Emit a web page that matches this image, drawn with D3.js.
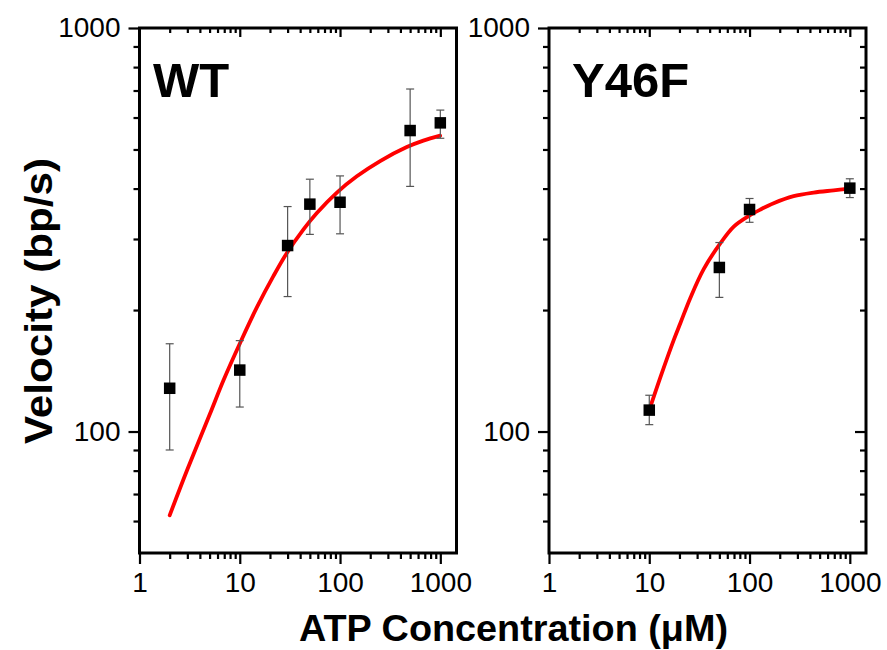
<!DOCTYPE html>
<html>
<head>
<meta charset="utf-8">
<script src="https://cdn.jsdelivr.net/npm/d3@7/dist/d3.min.js"></script>
<style>
  body { margin: 0; background: #fff; }
  svg { display: block; }
  text { font-family: "Liberation Sans", Arial, Helvetica, sans-serif; fill: #000; }
</style>
</head>
<body>
<svg id="chart" width="887" height="650"></svg>
<script>
// ---------- data ----------
const xMajorTicks = [1, 10, 100, 1000];
const xMinorTicks = [2,3,4,5,6,7,8,9,20,30,40,50,60,70,80,90,200,300,400,500,600,700,800,900];
const yMajorTicks = [100, 1000];
const yMinorTicks = [60,70,80,90,200,300,400,500,600,700,800,900];

const wtConc    = [2, 10, 30, 50, 100, 500, 1000];
const wtVel     = [128, 142, 289, 366, 370, 557, 582];
const wtErrLow  = [90, 115, 216, 308, 309, 405, 533];
const wtErrHigh = [165, 168, 361, 422, 430, 706, 626];

const wtFitConc = [2, 3, 5, 6.88, 10.1, 14.8, 21.7, 29.5, 43.2, 58.7, 93, 147, 251, 463, 677, 995];
const wtFitVel  = [62, 80.5, 110, 134, 166, 203, 243, 277, 317, 348, 391, 429, 468, 507, 526, 541];

const yfConc    = [10, 50, 100, 1000];
const yfVel     = [113, 255, 355, 401];
const yfErrLow  = [104, 215, 330, 380];
const yfErrHigh = [123, 294, 378, 423];

const yfFitConc = [10, 13, 17.6, 20.5, 25.8, 35, 51.3, 69.6, 98, 128.5, 174, 275, 436, 690, 995];
const yfFitVel  = [113, 137, 169, 186, 215, 253, 293, 322, 342, 355, 368, 383, 391, 396, 400];

const panels = [
  { name: "WT",   conc: wtConc, vel: wtVel, lo: wtErrLow, hi: wtErrHigh, fx: wtFitConc, fy: wtFitVel, left: 139.5, labelX: 153, rightTicks: false },
  { name: "Y46F", conc: yfConc, vel: yfVel, lo: yfErrLow, hi: yfErrHigh, fx: yfFitConc, fy: yfFitVel, left: 549, labelX: 572, rightTicks: true }
];

// ---------- layout ----------
const svg = d3.select("#chart");
const plotTop = 28, plotBottom = 553, panelW = 317;
const xDomain = [1, 1450];
const yDomain = [50, 1000];
const fmt = d3.format("d");

panels.forEach(p => {
  const x = d3.scaleLog().domain(xDomain).range([p.left, p.left + panelW]);
  const y = d3.scaleLog().domain(yDomain).range([plotBottom, plotTop]);
  const g = svg.append("g");

  const styleAxis = (sel) => {
    sel.select(".domain").remove();
    sel.selectAll(".tick line").attr("stroke", "#000").attr("stroke-width", 2.2);
    sel.selectAll(".tick text").style("font-size", "28px").attr("fill", "#000");
  };

  // bottom axis (outward)
  g.append("g").attr("transform", `translate(0,${plotBottom})`)
    .call(d3.axisBottom(x).tickValues(xMajorTicks).tickFormat(fmt).tickSize(11).tickPadding(8))
    .call(styleAxis);
  g.append("g").attr("transform", `translate(0,${plotBottom})`)
    .call(d3.axisBottom(x).tickValues(xMinorTicks).tickFormat("").tickSize(6))
    .call(styleAxis);
  // top axis (inward)
  g.append("g").attr("transform", `translate(0,${plotTop})`)
    .call(d3.axisBottom(x).tickValues(xMajorTicks.filter(v => v > 1)).tickFormat("").tickSize(9))
    .call(styleAxis);
  g.append("g").attr("transform", `translate(0,${plotTop})`)
    .call(d3.axisBottom(x).tickValues(xMinorTicks).tickFormat("").tickSize(5))
    .call(styleAxis);
  // left axis (outward)
  g.append("g").attr("transform", `translate(${p.left},0)`)
    .call(d3.axisLeft(y).tickValues(yMajorTicks).tickFormat(fmt).tickSize(11).tickPadding(8))
    .call(styleAxis);
  g.append("g").attr("transform", `translate(${p.left},0)`)
    .call(d3.axisLeft(y).tickValues(yMinorTicks).tickFormat("").tickSize(6))
    .call(styleAxis);
  // right axis (inward) only for second panel
  if (p.rightTicks) {
    g.append("g").attr("transform", `translate(${p.left + panelW},0)`)
      .call(d3.axisLeft(y).tickValues(yMajorTicks.filter(v => v < 1000)).tickFormat("").tickSize(11))
      .call(styleAxis);
    g.append("g").attr("transform", `translate(${p.left + panelW},0)`)
      .call(d3.axisLeft(y).tickValues(yMinorTicks).tickFormat("").tickSize(6))
      .call(styleAxis);
  }

  // frame
  g.append("rect")
    .attr("x", p.left).attr("y", plotTop)
    .attr("width", panelW).attr("height", plotBottom - plotTop)
    .attr("fill", "none").attr("stroke", "#000").attr("stroke-width", 3);

  // fit curve
  const line = d3.line().x(d => x(d[0])).y(d => y(d[1])).curve(d3.curveCatmullRom.alpha(0.5));
  g.append("path")
    .datum(p.fx.map((c, i) => [c, p.fy[i]]))
    .attr("d", line)
    .attr("fill", "none").attr("stroke", "#ff0000").attr("stroke-width", 3.8)
    .attr("stroke-linecap", "round");

  // error bars
  const eb = g.append("g").attr("stroke", "#555").attr("stroke-width", 1.2);
  p.conc.forEach((c, i) => {
    const cx = x(c);
    eb.append("line").attr("x1", cx).attr("x2", cx).attr("y1", y(p.lo[i])).attr("y2", y(p.hi[i]));
    eb.append("line").attr("x1", cx - 4).attr("x2", cx + 4).attr("y1", y(p.lo[i])).attr("y2", y(p.lo[i]));
    eb.append("line").attr("x1", cx - 4).attr("x2", cx + 4).attr("y1", y(p.hi[i])).attr("y2", y(p.hi[i]));
  });

  // markers
  const ms = 11.5;
  g.selectAll("rect.pt").data(p.conc).enter().append("rect")
    .attr("class", "pt")
    .attr("x", d => x(d) - ms / 2)
    .attr("y", (d, i) => y(p.vel[i]) - ms / 2)
    .attr("width", ms).attr("height", ms)
    .attr("fill", "#000");

  // panel label
  g.append("text")
    .attr("x", p.labelX).attr("y", 97)
    .style("font-size", "49px").style("font-weight", "bold")
    .text(p.name);
});

// axis titles
svg.append("text")
  .attr("transform", "translate(52,301) rotate(-90)")
  .attr("text-anchor", "middle")
  .attr("textLength", 286).attr("lengthAdjust", "spacingAndGlyphs")
  .style("font-size", "39px").style("font-weight", "bold")
  .text("Velocity (bp/s)");

svg.append("text")
  .attr("x", 513.5).attr("y", 641)
  .attr("text-anchor", "middle")
  .attr("textLength", 429).attr("lengthAdjust", "spacingAndGlyphs")
  .style("font-size", "37px").style("font-weight", "bold")
  .text("ATP Concentration (μM)");
</script>
</body>
</html>
